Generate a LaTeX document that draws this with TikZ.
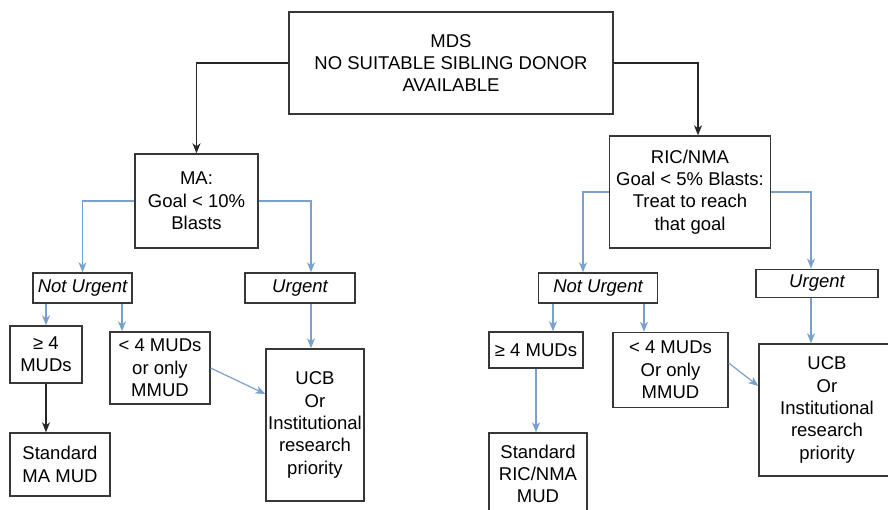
\documentclass[tikz,border=0pt]{standalone}
\usepackage{fontspec}
\setmainfont{Liberation Sans}
\usetikzlibrary{arrows.meta}
\definecolor{lineblue}{RGB}{122,160,206}
\definecolor{boxgray}{RGB}{55,55,55}
\begin{document}
\begin{tikzpicture}
[x=1pt,y=-1pt, font=\fontsize{18.5}{22.3}\selectfont,
 b/.style={draw=boxgray,line width=1.4pt,inner sep=0pt,align=center},
 k/.style={draw=black!85,line width=1.2pt,-{Stealth[length=10pt,width=8pt,inset=3pt]}},
 u/.style={draw=lineblue,line width=1.2pt,-{Stealth[length=10pt,width=8pt,inset=3pt]}}]
\useasboundingbox (0,0) rectangle (888,510);\clip (0,0) rectangle (888,510);
\node(top) at (451,63)[b,minimum width=324,minimum height=102]{MDS\\NO SUITABLE SIBLING DONOR\\AVAILABLE};
\node(ma) at (196.5,201)[b,minimum width=123,minimum height=94]{MA:\\Goal < 10\%\\Blasts};
\node(ric) at (690,192)[b,minimum width=161,minimum height=112]{RIC/NMA\\Goal < 5\% Blasts:\\Treat to reach\\that goal};
\node(nuL) at (82.5,288)[b,minimum width=99,minimum height=30]{\itshape Not Urgent};
\node(urL) at (300,288)[b,minimum width=110,minimum height=30]{\itshape Urgent};
\node(geL) at (46,354.5)[b,minimum width=72,minimum height=57]{≥ 4\\MUDs};
\node(ltL) at (160,368)[b,minimum width=100,minimum height=72]{< 4 MUDs\\or only\\MMUD};
\node(stL) at (60,464.5)[b,minimum width=100,minimum height=63]{Standard\\MA MUD};
\node(ucbL) at (315,425)[b,minimum width=98,minimum height=152]{UCB\\Or\\Institutional\\research\\priority};
\node(nuR) at (598,288)[b,minimum width=119,minimum height=30]{\itshape Not Urgent};
\node(urR) at (817,283.5)[b,minimum width=122,minimum height=28.5]{\itshape Urgent};
\node(geR) at (536,350)[b,minimum width=94,minimum height=36]{≥ 4 MUDs};
\node(ltR) at (670.5,370)[b,minimum width=115,minimum height=75]{< 4 MUDs\\Or only\\MMUD};
\node(stR) at (538,474)[b,minimum width=98,minimum height=82]{Standard\\RIC/NMA\\MUD};
\node(ucbR) at (827,410)[b,minimum width=136,minimum height=132]{UCB\\Or\\Institutional\\research\\priority};
% black arrows
\draw[k](top.west)-|(ma.north);\draw[k](top.east)-|([xshift=8pt]ric.north);
\draw[k](geL.south)--(geL.south|-stL.north);
% left branch
\draw[u](ma.west)-|(nuL.north);\draw[u](ma.east)-|([xshift=11pt]urL.north);
\draw[u]([xshift=11pt]urL.south)--([xshift=11pt]urL.south|-ucbL.north);
\draw[u](geL.north|-nuL.south)--(geL.north);\draw[u]([xshift=39.5pt]nuL.south)--([xshift=39.5pt]nuL.south|-ltL.north);
\draw[u](ltL.east)--([yshift=31pt]ucbL.west);
% right branch
\draw[u](ric.west)-|([xshift=-15pt]nuR.north);\draw[u](ric.east)-|([xshift=-6pt]urR.north);
\draw[u]([xshift=-6pt]urR.south)--([xshift=-6pt]urR.south|-ucbR.north);
\draw[u]([xshift=-45pt]nuR.south)--([xshift=17pt]geR.north);\draw[u]([xshift=46pt]nuR.south)--([xshift=-26.5pt]ltR.north);
\draw[u](geR.south)--(geR.south|-stR.north);
\draw[u]([yshift=7pt]ltR.east)--([yshift=24pt]ucbR.west);
\end{tikzpicture}
\end{document}
